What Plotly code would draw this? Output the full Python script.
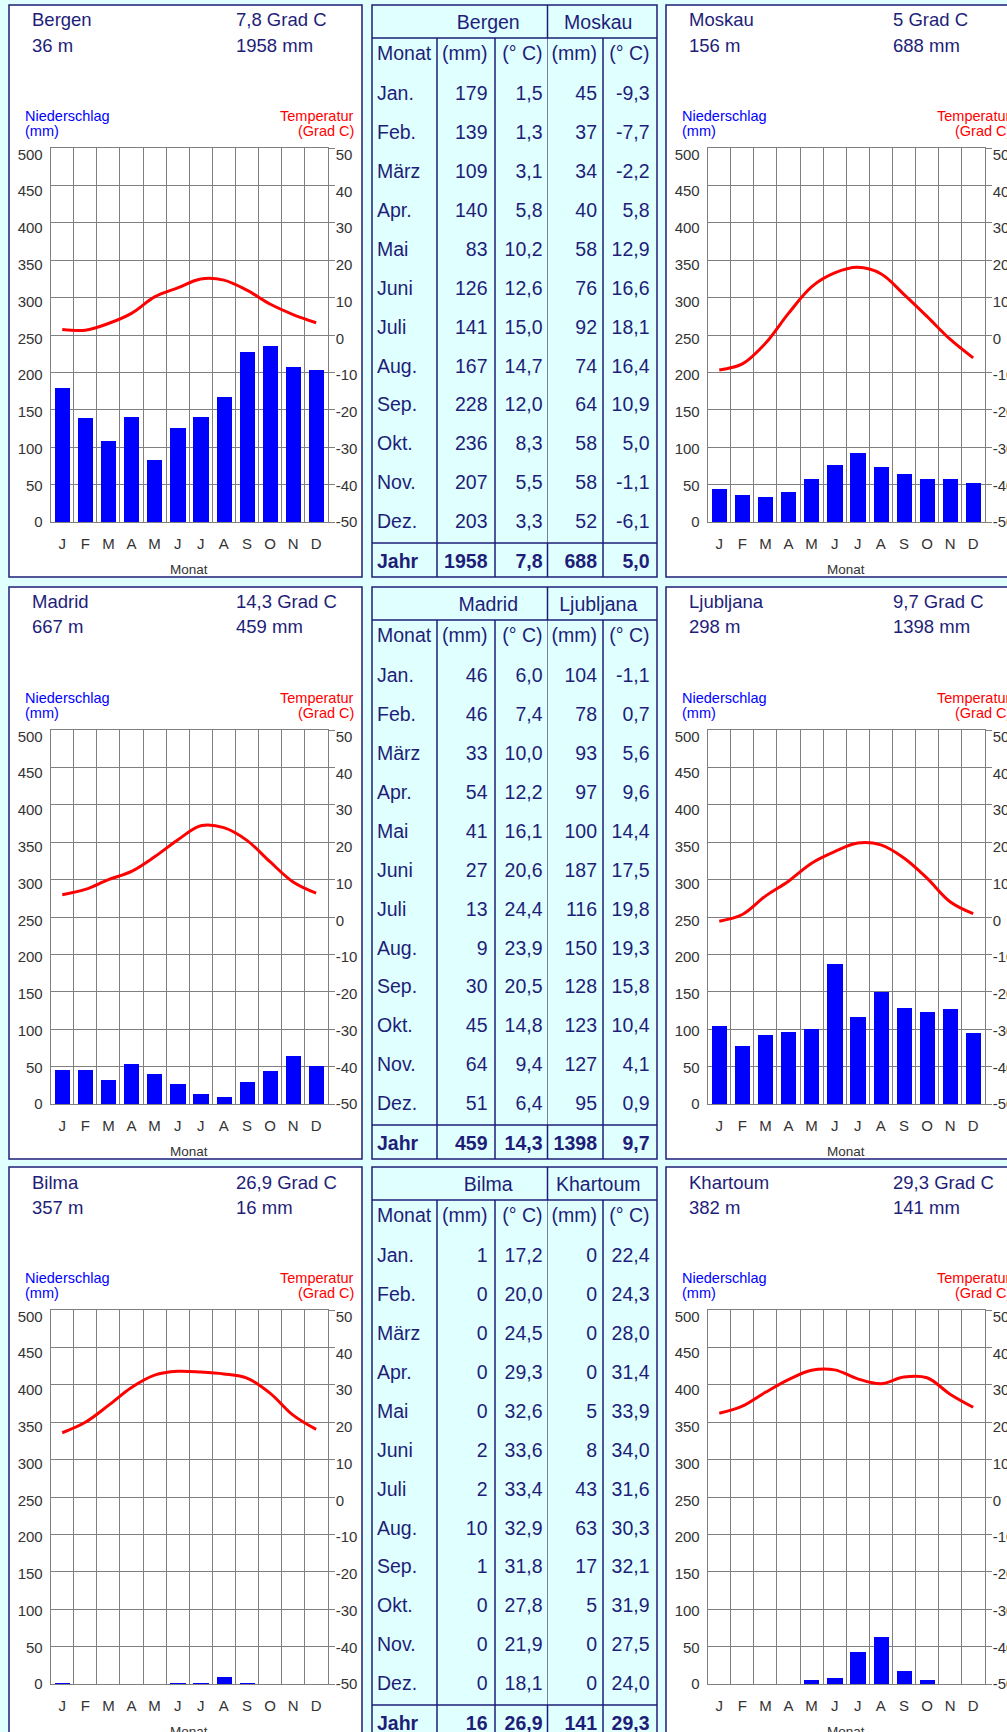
import plotly.graph_objects as go

# ---------------- data ----------------
month_letters = ["J", "F", "M", "A", "M", "J", "J", "A", "S", "O", "N", "D"]
month_names = ["Jan.", "Feb.", "März", "Apr.", "Mai", "Juni", "Juli", "Aug.", "Sep.", "Okt.", "Nov.", "Dez."]

stations = ["Bergen", "Moskau", "Madrid", "Ljubljana", "Bilma", "Khartoum"]
altitude_m = [36, 156, 667, 298, 357, 382]
annual_precip = [1958, 688, 459, 1398, 16, 141]
annual_temp = [7.8, 5.0, 14.3, 9.7, 26.9, 29.3]

bergen_precip = [179, 139, 109, 140, 83, 126, 141, 167, 228, 236, 207, 203]
bergen_temp = [1.5, 1.3, 3.1, 5.8, 10.2, 12.6, 15.0, 14.7, 12.0, 8.3, 5.5, 3.3]
moskau_precip = [45, 37, 34, 40, 58, 76, 92, 74, 64, 58, 58, 52]
moskau_temp = [-9.3, -7.7, -2.2, 5.8, 12.9, 16.6, 18.1, 16.4, 10.9, 5.0, -1.1, -6.1]
madrid_precip = [46, 46, 33, 54, 41, 27, 13, 9, 30, 45, 64, 51]
madrid_temp = [6.0, 7.4, 10.0, 12.2, 16.1, 20.6, 24.4, 23.9, 20.5, 14.8, 9.4, 6.4]
ljubljana_precip = [104, 78, 93, 97, 100, 187, 116, 150, 128, 123, 127, 95]
ljubljana_temp = [-1.1, 0.7, 5.6, 9.6, 14.4, 17.5, 19.8, 19.3, 15.8, 10.4, 4.1, 0.9]
bilma_precip = [1, 0, 0, 0, 0, 2, 2, 10, 1, 0, 0, 0]
bilma_temp = [17.2, 20.0, 24.5, 29.3, 32.6, 33.6, 33.4, 32.9, 31.8, 27.8, 21.9, 18.1]
khartoum_precip = [0, 0, 0, 0, 5, 8, 43, 63, 17, 5, 0, 0]
khartoum_temp = [22.4, 24.3, 28.0, 31.4, 33.9, 34.0, 31.6, 30.3, 32.1, 31.9, 27.5, 24.0]

precip_series = [bergen_precip, moskau_precip, madrid_precip, ljubljana_precip, bilma_precip, khartoum_precip]
temp_series = [bergen_temp, moskau_temp, madrid_temp, ljubljana_temp, bilma_temp, khartoum_temp]

table_header = ["Monat", "(mm)", "(° C)", "(mm)", "(° C)"]
precip_ticks = list(range(0, 501, 50))
temp_ticks = list(range(-50, 51, 10))

# ---------------- style / geometry (pixels) ----------------
W, H = 1007, 1732
CYAN = "#E0FFFF"
NAVY = "#1E1E78"
GRID = "#808080"
TICKC = "#333333"
FONT = "Liberation Sans, Arial, sans-serif"

ROW_TOPS = [5, 587, 1167]
PANEL_LEFTS = [9, 666]
PANEL_W, PANEL_H = 353, 572
PLOT_DX, PLOT_W = 41.7, 277
PLOT_TOP, PLOT_BOT = 143, 517.2
# tick labels in the original sit on a slightly tighter scale than the grid
PRECIP_LABEL_RANGE = [0, 508.8]
TEMP_LABEL_RANGE = [-50, 51.8]
TABLE_L, TABLE_R = 372, 657
COL_EDGES = [372, 437, 495, 547.5, 603, 657]
COL_PAD = [5, 7.5, 5, 6, 7.5]
HEAD1_H = 33
JAHR_TOP = 538
ROW_Y_HEAD1 = 19
ROW_Y_MONAT = 50
ROW_Y_JAN = 90
ROW_PITCH = 38.95
ROW_Y_JAHR = 558


def fy(y):
    return min(1.0, max(0.0, 1 - y / H))


def de(v):
    return f"{v:.1f}".replace(".", ",")


def de_short(v):
    s = de(v)
    return s[:-2] if s.endswith(",0") else s


def ax(prefix, n):
    return prefix if n == 1 else f"{prefix}{n}"


fig = go.Figure()
shapes = []
annotations = []
layout = {}


def txt(text, x, y, size, color, xanchor="left"):
    annotations.append(dict(text=text, x=x / W, y=1 - y / H, xref="paper", yref="paper",
                            xanchor=xanchor, yanchor="middle", showarrow=False,
                            font=dict(size=size, color=color, family=FONT)))


def line(x0, y0, x1, y1, color=NAVY, width=1.5):
    shapes.append(dict(type="line", xref="paper", yref="paper",
                       x0=x0 / W, x1=x1 / W, y0=1 - y0 / H, y1=1 - y1 / H,
                       line=dict(color=color, width=width)))


tickfont = dict(size=15, color=TICKC, family=FONT)
xcount = 0
ycount = 0
for r in range(3):
    rt = ROW_TOPS[r]
    # ---------- chart panels ----------
    for side in range(2):
        s = 2 * r + side
        pl = PANEL_LEFTS[side]
        shapes.append(dict(type="rect", xref="paper", yref="paper",
                           x0=pl / W, x1=(pl + PANEL_W) / W, y0=1 - (rt + PANEL_H) / H, y1=1 - rt / H,
                           fillcolor="white", line=dict(color=NAVY, width=1.5), layer="below"))
        xcount += 1
        xn = xcount
        yn, tn, pln, tln = ycount + 1, ycount + 2, ycount + 3, ycount + 4
        ycount += 4
        x0 = pl + PLOT_DX
        x1 = x0 + PLOT_W
        dom_x = [x0 / W, x1 / W]
        dom_y = [fy(rt + PLOT_BOT), fy(rt + PLOT_TOP)]

        layout[ax("xaxis", xn)] = dict(
            domain=dom_x, anchor=ax("y", yn), type="category", automargin=False,
            categoryorder="array", categoryarray=month_names,
            tickmode="array", tickvals=month_names, ticktext=month_letters,
            tickson="boundaries", ticks="", showgrid=True, gridcolor=GRID, gridwidth=1,
            showline=True, mirror=True, linecolor=GRID, linewidth=1,
            tickfont=tickfont, ticklabelstandoff=8,
            range=[-0.5, 11.5], fixedrange=True, zeroline=False)
        # precipitation axis: grid only
        layout[ax("yaxis", yn)] = dict(
            domain=dom_y, anchor=ax("x", xn), range=[0, 500], automargin=False,
            tickmode="array", tickvals=precip_ticks, showticklabels=False,
            showgrid=True, gridcolor=GRID, gridwidth=1, zeroline=False,
            showline=True, mirror=True, linecolor=GRID, linewidth=1, ticks="",
            fixedrange=True)
        # temperature axis: tick marks on the right
        layout[ax("yaxis", tn)] = dict(
            overlaying=ax("y", yn), side="right", anchor=ax("x", xn), range=[-50, 50],
            automargin=False, tickmode="array", tickvals=temp_ticks, showticklabels=False,
            showgrid=False, zeroline=False, showline=False,
            ticks="outside", ticklen=6, tickcolor=GRID, tickwidth=1, fixedrange=True)
        # label axes
        layout[ax("yaxis", pln)] = dict(
            overlaying=ax("y", yn), side="left", anchor=ax("x", xn), range=PRECIP_LABEL_RANGE,
            automargin=False, tickmode="array", tickvals=precip_ticks,
            ticktext=[str(v) for v in precip_ticks], showgrid=False, zeroline=False,
            showline=False, ticks="", tickfont=tickfont, ticklabelstandoff=7, fixedrange=True)
        layout[ax("yaxis", tln)] = dict(
            overlaying=ax("y", yn), side="right", anchor=ax("x", xn), range=TEMP_LABEL_RANGE,
            automargin=False, tickmode="array", tickvals=temp_ticks,
            ticktext=[str(v) for v in temp_ticks], showgrid=False, zeroline=False,
            showline=False, ticks="", tickfont=tickfont, ticklabelstandoff=7, fixedrange=True)

        fig.add_trace(go.Bar(x=month_names, y=precip_series[s], xaxis=ax("x", xn), yaxis=ax("y", yn),
                             marker=dict(color="#0000FF", line=dict(width=0)), width=0.66,
                             hoverinfo="skip"))
        fig.add_trace(go.Scatter(x=month_names, y=temp_series[s], xaxis=ax("x", xn), yaxis=ax("y", tn),
                                 mode="lines", line=dict(color="#FF0000", width=3, shape="spline", smoothing=1),
                                 hoverinfo="skip"))
        # invisible anchors so the label axes are drawn
        fig.add_trace(go.Scatter(x=[month_names[0]], y=[0], xaxis=ax("x", xn), yaxis=ax("y", pln),
                                 mode="markers", marker=dict(opacity=0), hoverinfo="skip"))
        fig.add_trace(go.Scatter(x=[month_names[0]], y=[0], xaxis=ax("x", xn), yaxis=ax("y", tln),
                                 mode="markers", marker=dict(opacity=0), hoverinfo="skip"))

        txt(stations[s], pl + 21, rt + 15, 18.5, NAVY)
        txt(f"{altitude_m[s]} m", pl + 21, rt + 40, 18.5, NAVY)
        txt(f"{de_short(annual_temp[s])} Grad C", pl + 225, rt + 15, 18.5, NAVY)
        txt(f"{annual_precip[s]} mm", pl + 225, rt + 40, 18.5, NAVY)
        txt("Niederschlag", pl + 14, rt + 111, 14.5, "#0000FF")
        txt("(mm)", pl + 14, rt + 126, 14.5, "#0000FF")
        txt("Temperatur", pl + 347, rt + 111, 14.5, "#FF0000", "right")
        txt("(Grad C)", pl + 347, rt + 126, 14.5, "#FF0000", "right")
        txt("Monat", (x0 + x1) / 2, rt + 564, 13.5, TICKC, "center")

    # ---------- table (frame + text on its own axes) ----------
    sa, sb = 2 * r, 2 * r + 1
    bottom = min(rt + PANEL_H, H)
    shapes.append(dict(type="rect", xref="paper", yref="paper",
                       x0=TABLE_L / W, x1=TABLE_R / W, y0=1 - (rt + PANEL_H) / H, y1=1 - rt / H,
                       fillcolor=CYAN, line=dict(color=NAVY, width=1.5), layer="below"))
    for i, xe in enumerate(COL_EDGES[1:-1]):
        if i == 2:
            line(xe, rt + HEAD1_H, xe, rt + JAHR_TOP, color="#7C7CA8", width=1)
            line(xe, rt + JAHR_TOP, xe, rt + PANEL_H)
        else:
            line(xe, rt + HEAD1_H, xe, rt + PANEL_H)
    line(COL_EDGES[3], rt, COL_EDGES[3], rt + HEAD1_H)
    for ye in (HEAD1_H, JAHR_TOP):
        line(TABLE_L, rt + ye, TABLE_R, rt + ye)

    xcount += 1
    xn = xcount
    ycount += 1
    yn = ycount
    layout[ax("xaxis", xn)] = dict(domain=[TABLE_L / W, TABLE_R / W], range=[TABLE_L, TABLE_R],
                                   anchor=ax("y", yn), visible=False, fixedrange=True, automargin=False)
    layout[ax("yaxis", yn)] = dict(domain=[fy(bottom), fy(rt)], range=[bottom, rt],
                                   anchor=ax("x", xn), visible=False, fixedrange=True, automargin=False)

    tfont = dict(size=19.5, color=NAVY, family=FONT)
    columns = [
        month_names,
        [str(v) for v in precip_series[sa]],
        [de(v) for v in temp_series[sa]],
        [str(v) for v in precip_series[sb]],
        [de(v) for v in temp_series[sb]],
    ]
    jahr = ["<b>Jahr</b>", f"<b>{annual_precip[sa]}</b>", f"<b>{de(annual_temp[sa])}</b>",
            f"<b>{annual_precip[sb]}</b>", f"<b>{de(annual_temp[sb])}</b>"]
    row_y = [rt + ROW_Y_MONAT] + [rt + ROW_Y_JAN + ROW_PITCH * i for i in range(12)] + [rt + ROW_Y_JAHR]
    for c in range(5):
        if c == 0:
            xpos = COL_EDGES[0] + COL_PAD[0]
            tpos = "middle right"
        else:
            xpos = COL_EDGES[c + 1] - COL_PAD[c]
            tpos = "middle left"
        texts = [table_header[c]] + columns[c] + [jahr[c]]
        fig.add_trace(go.Scatter(x=[xpos] * len(texts), y=row_y, text=texts, mode="text",
                                 textposition=tpos, textfont=tfont, cliponaxis=False,
                                 xaxis=ax("x", xn), yaxis=ax("y", yn), hoverinfo="skip"))
    group_x = [(COL_EDGES[1] + COL_EDGES[3]) / 2 - 4, (COL_EDGES[3] + COL_EDGES[5]) / 2 - 4]
    fig.add_trace(go.Scatter(x=group_x, y=[rt + ROW_Y_HEAD1] * 2, text=[stations[sa], stations[sb]],
                             mode="text", textposition="middle center", textfont=tfont, cliponaxis=False,
                             xaxis=ax("x", xn), yaxis=ax("y", yn), hoverinfo="skip"))

fig.update_layout(width=W, height=H, autosize=False,
                  margin=dict(l=0, r=0, t=0, b=0, pad=0, autoexpand=False),
                  paper_bgcolor=CYAN, plot_bgcolor="white", showlegend=False,
                  shapes=shapes, annotations=annotations, bargap=0, hovermode=False,
                  **layout)

page_fix = (
    "document.documentElement.style.margin='0';"
    "document.documentElement.style.padding='0';"
    "document.documentElement.style.overflow='hidden';"
    "document.body.style.margin='0';"
    "document.body.style.padding='0';"
    "document.body.style.overflow='hidden';"
    "var gd=document.querySelector('.plotly-graph-div');"
    "if(gd){gd.style.position='absolute';gd.style.left='0px';gd.style.top='0px';}"
)

fig.write_html("out.html", config={"displayModeBar": False}, post_script=page_fix)
